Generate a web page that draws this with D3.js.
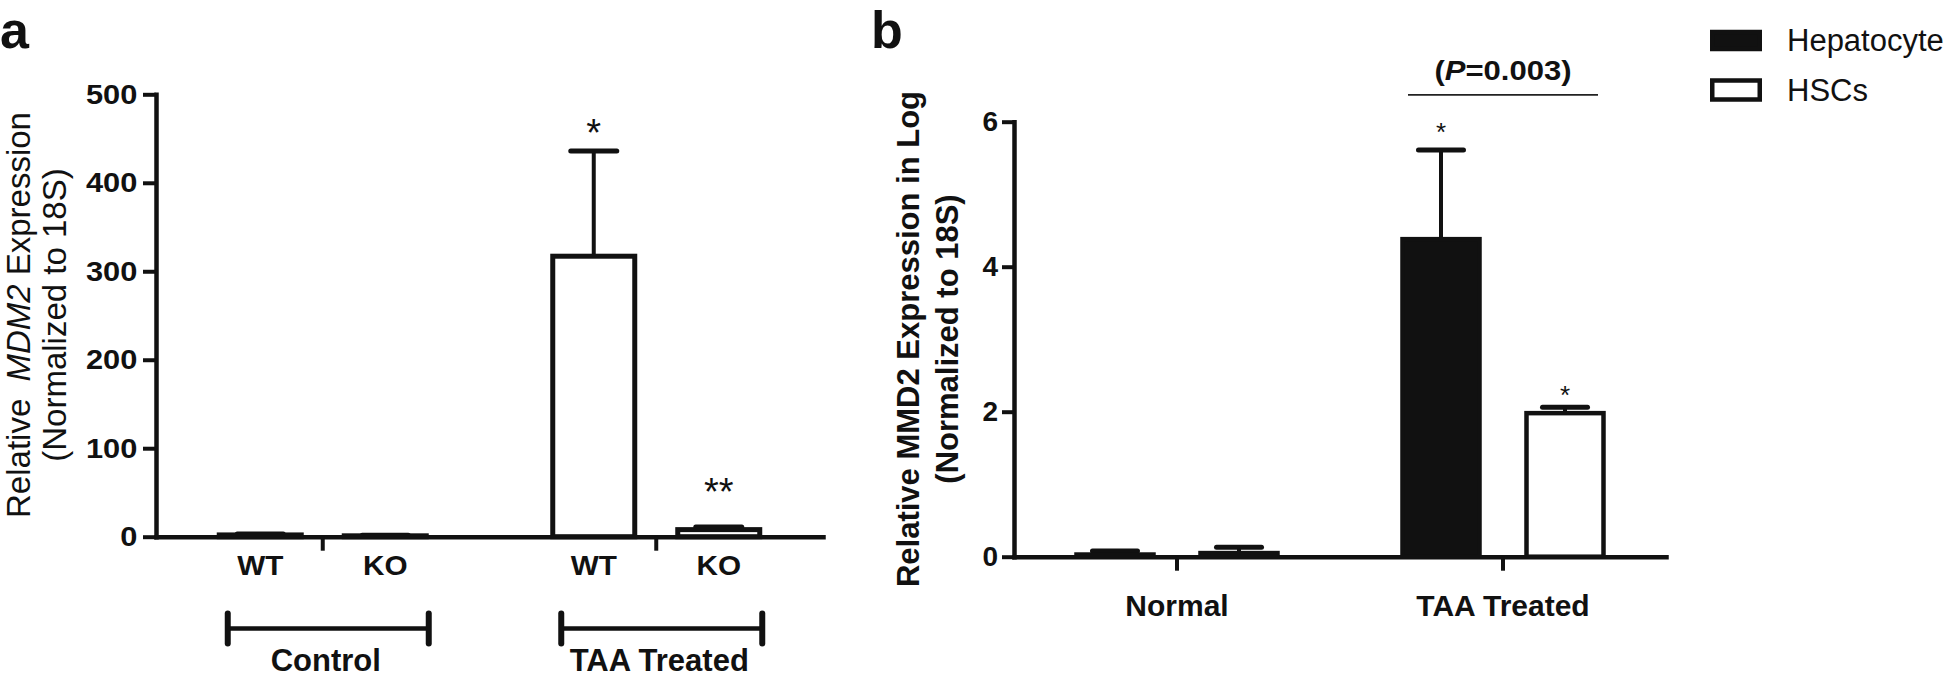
<!DOCTYPE html>
<html><head><meta charset="utf-8">
<script src="https://cdn.jsdelivr.net/npm/d3@7"></script>
<style>
body{margin:0;background:#fff}
svg{display:block}
text{font-family:"Liberation Sans",Arial,Helvetica,sans-serif;fill:#111}
</style>
</head><body>
<svg id="c" width="1946" height="679"></svg>
<script>
// ---------- DATA: panel a ----------
const aGroups = ["Control", "TAA Treated"];
const aSubgroups = ["WT", "KO"];
const aMeans = [[2, 1], [317, 8]];
const aErrors = [[1, 0.5], [119, 3]];
const aStars = [["", ""], ["*", "**"]];
const aStarLevels = [[null, null], [442, 36]];
const aTicks = [0, 100, 200, 300, 400, 500];

// ---------- DATA: panel b ----------
const bGroups = ["Normal", "TAA Treated"];
const bSeries = ["Hepatocyte", "HSCs"];
const bMeans = [[0.03, 0.05], [4.38, 1.98]];
const bErrors = [[0.05, 0.08], [1.23, 0.08]];
const bStars = [["", ""], ["*", "*"]];
const bStarLevels = [[null, null], [5.73, 2.10]];
const bTicks = [0, 2, 4, 6];
const bPValue = "0.003";
const bPLevel = 6.37;

// ---------- STYLE ----------
const INK = "#111";
const FONT = '"Liberation Sans", Arial, Helvetica, sans-serif';
const bFills = ["#111", "#fff"];

const svg = d3.select("#c");

function label(g, x, y, str, o = {}) {
  const t = g.append("text")
    .attr("transform", `translate(${x},${y}) scale(${o.sx || 1},1)` + (o.rot ? ` rotate(${o.rot})` : ""))
    .attr("text-anchor", o.anchor || "middle")
    .attr("font-size", o.size || 20)
    .attr("font-weight", o.weight || "normal");
  if (Array.isArray(str)) {
    str.forEach(p => {
      const ts = t.append("tspan").text(p.t);
      if (p.italic) ts.attr("font-style", "italic");
      if (p.dx) ts.attr("dx", p.dx);
    });
  } else t.text(str);
  return t;
}

function styleAxis(ax, size, sx) {
  ax.attr("font-family", FONT).attr("font-size", size).attr("font-weight", "bold");
  ax.select(".domain").attr("stroke", INK).attr("stroke-width", 4.5).attr("stroke-linecap", "square");
  ax.selectAll(".tick line").attr("stroke", INK).attr("stroke-width", 4);
  ax.selectAll(".tick text").attr("fill", INK);
  if (sx) ax.selectAll(".tick text").attr("transform", `scale(${sx},1)`);
}

// ================= PANEL A =================
const gA = svg.append("g");
const xA = d3.scaleBand().domain(aGroups).range([156, 823]).padding(0);
const xA1 = d3.scaleBand().domain(aSubgroups).range([0, xA.bandwidth()]).paddingInner(0.344).paddingOuter(0.506);
const yA = d3.scaleLinear().domain([0, 500]).range([536.7, 94.3]);

const aRows = [];
aGroups.forEach((g, gi) => aSubgroups.forEach((s, si) => aRows.push({
  g, s, mean: aMeans[gi][si], err: aErrors[gi][si], star: aStars[gi][si], lvl: aStarLevels[gi][si],
  cx: xA(g) + xA1(s) + xA1.bandwidth() / 2
})));

// error bars
gA.selectAll("line.ev").data(aRows).join("line")
  .attr("x1", d => d.cx).attr("x2", d => d.cx)
  .attr("y1", d => yA(d.mean)).attr("y2", d => yA(d.mean + d.err))
  .attr("stroke", INK).attr("stroke-width", 4);
gA.selectAll("line.ec").data(aRows).join("line")
  .attr("x1", d => d.cx - 23).attr("x2", d => d.cx + 23)
  .attr("y1", d => yA(d.mean + d.err)).attr("y2", d => yA(d.mean + d.err))
  .attr("stroke", INK).attr("stroke-width", 5).attr("stroke-linecap", "round");
// bars
gA.selectAll("rect.bar").data(aRows).join("rect")
  .attr("x", d => xA(d.g) + xA1(d.s)).attr("width", xA1.bandwidth())
  .attr("y", d => yA(d.mean)).attr("height", d => yA(0) - yA(d.mean))
  .attr("fill", "#fff").attr("stroke", INK).attr("stroke-width", 5);

// axes
const axYA = gA.append("g").attr("transform", "translate(156,0)")
  .call(d3.axisLeft(yA).tickValues(aTicks).tickFormat(d3.format("d")).tickSize(13).tickSizeOuter(0).tickPadding(4));
styleAxis(axYA, 28, 1.1);
const axXA = gA.append("g").attr("transform", `translate(0,${yA(0)})`)
  .call(d3.axisBottom(xA).tickSize(14).tickSizeOuter(0).tickFormat(""));
styleAxis(axXA, 28);

// stars
aRows.filter(d => d.star).forEach(d => label(gA, d.cx, yA(d.lvl), d.star, {size: 38}));
// subgroup labels
aRows.forEach(d => label(gA, d.cx, 575, d.s, {size: 27, weight: "bold", sx: 1.1}));
// group brackets + labels
aGroups.forEach(g => {
  const c = xA(g) + xA.bandwidth() / 2;
  const x1 = c - 95, x2 = c + 106, yb = 628.5;
  gA.append("line").attr("x1", x1).attr("x2", x2).attr("y1", yb).attr("y2", yb)
    .attr("stroke", INK).attr("stroke-width", 4.5);
  [x1, x2].forEach(x => gA.append("line").attr("x1", x).attr("x2", x).attr("y1", yb - 15).attr("y2", yb + 15)
    .attr("stroke", INK).attr("stroke-width", 6).attr("stroke-linecap", "round"));
  label(gA, c + 3, 671, g, {size: 31, weight: "bold"});
});
// y title
label(gA, 30, 315, [{t: "Relative "}, {t: "MDM2", italic: true, dx: 8}, {t: " Expression"}], {size: 33, rot: -90});
label(gA, 66, 315, "(Normalized to 18S)", {size: 33, rot: -90});
// panel letter
label(gA, 0, 48, "a", {size: 52, weight: "bold", anchor: "start"});

// ================= PANEL B =================
const gB = svg.append("g");
const xB = d3.scaleBand().domain(bGroups).range([1014, 1666]).padding(0);
const xB1 = d3.scaleBand().domain(bSeries).range([0, xB.bandwidth()]).paddingInner(0.379).paddingOuter(0.504);
const yB = d3.scaleLinear().domain([0, 6]).range([556.7, 121.7]);

const bRows = [];
bGroups.forEach((g, gi) => bSeries.forEach((s, si) => bRows.push({
  g, s, si, mean: bMeans[gi][si], err: bErrors[gi][si], star: bStars[gi][si], lvl: bStarLevels[gi][si],
  cx: xB(g) + xB1(s) + xB1.bandwidth() / 2
})));

gB.selectAll("line.ev").data(bRows).join("line")
  .attr("x1", d => d.cx).attr("x2", d => d.cx)
  .attr("y1", d => yB(d.mean)).attr("y2", d => yB(d.mean + d.err))
  .attr("stroke", INK).attr("stroke-width", 4);
gB.selectAll("line.ec").data(bRows).join("line")
  .attr("x1", d => d.cx - 22.5).attr("x2", d => d.cx + 22.5)
  .attr("y1", d => yB(d.mean + d.err)).attr("y2", d => yB(d.mean + d.err))
  .attr("stroke", INK).attr("stroke-width", 5).attr("stroke-linecap", "round");
gB.selectAll("rect.bar").data(bRows).join("rect")
  .attr("x", d => xB(d.g) + xB1(d.s)).attr("width", xB1.bandwidth())
  .attr("y", d => yB(d.mean)).attr("height", d => yB(0) - yB(d.mean))
  .attr("fill", d => bFills[d.si]).attr("stroke", INK).attr("stroke-width", 4.5);

const axYB = gB.append("g").attr("transform", "translate(1014,0)")
  .call(d3.axisLeft(yB).tickValues(bTicks).tickFormat(d3.format("d")).tickSize(12).tickSizeOuter(0).tickPadding(4));
styleAxis(axYB, 28);
const axXB = gB.append("g").attr("transform", `translate(0,${yB(0)})`)
  .call(d3.axisBottom(xB).tickSize(14).tickSizeOuter(0).tickFormat(""));
styleAxis(axXB, 28);

bGroups.forEach(g => label(gB, xB(g) + xB.bandwidth() / 2, 616, g, {size: 30, weight: "bold"}));
bRows.filter(d => d.star).forEach(d => label(gB, d.cx, yB(d.lvl), d.star, {size: 26}));

// p-value bracket over TAA group
const tg = bGroups[1];
const px1 = xB(tg) + xB1(bSeries[0]) + 5.5, px2 = xB(tg) + xB1(bSeries[1]) + xB1.bandwidth() - 5.5;
gB.append("line").attr("x1", px1).attr("x2", px2).attr("y1", yB(bPLevel)).attr("y2", yB(bPLevel))
  .attr("stroke", "#222").attr("stroke-width", 1.8);
label(gB, (px1 + px2) / 2, 80, [{t: "("}, {t: "P", italic: true}, {t: "=" + bPValue + ")"}], {size: 27, weight: "bold", sx: 1.15});

// y title
label(gB, 919, 339, "Relative MMD2 Expression in Log", {size: 31, weight: "bold", rot: -90});
label(gB, 958, 339, "(Normalized to 18S)", {size: 31, weight: "bold", rot: -90});
label(gB, 871, 48, "b", {size: 52, weight: "bold", anchor: "start"});

// legend
const legY = [32, 80.5], legH = [17, 19], legText = [51, 101];
bSeries.forEach((s, i) => {
  gB.append("rect").attr("x", 1712.25).attr("y", legY[i]).attr("width", 47.5).attr("height", legH[i])
    .attr("fill", bFills[i]).attr("stroke", INK).attr("stroke-width", 4.5);
  label(gB, 1787, legText[i], s, {size: 31, anchor: "start"});
});
</script>
</body></html>
